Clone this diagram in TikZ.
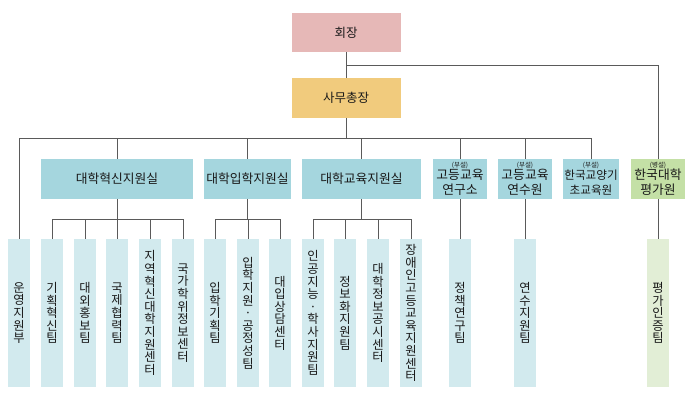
\documentclass[tikz,border=0pt]{standalone}
\usepackage{fontspec}
\setmainfont{Noto Sans CJK KR}
\definecolor{presc}{HTML}{E6B8B7}
\definecolor{secc}{HTML}{F1CB7D}
\definecolor{midc}{HTML}{A5D6DE}
\definecolor{midg}{HTML}{C4E0A6}
\definecolor{leafc}{HTML}{D2EAEE}
\definecolor{leafg}{HTML}{E2EED6}
\definecolor{linec}{HTML}{5A5A5A}
\begin{document}
\begin{tikzpicture}[x=1pt,y=-1pt,
 box/.style={draw=none, inner sep=0pt, outer sep=0pt, align=center, text=black!90},
 topbox/.style={box, minimum width=109pt, minimum height=39pt, font=\fontsize{12.5}{14}\selectfont},
 mid/.style={box, fill=midc, minimum height=40pt, font=\fontsize{12.8}{15}\selectfont},
 leaf/.style={box, fill=leafc, minimum width=22pt, minimum height=148pt, font=\fontsize{12.3}{12.6}\selectfont},
 link/.style={draw=linec, line width=0.8pt}]
\useasboundingbox (0,0) rectangle (700,407);
% top
\node[topbox, fill=presc] (pres) at (346,32.5) {회장};
\node[topbox, fill=secc, minimum height=40pt] (sec) at (346,98) {사무총장};
% middle
\node[mid, minimum width=152pt] (m1) at (117,179) {대학혁신지원실};
\node[mid, minimum width=87pt] (m2) at (247.5,179) {대학입학지원실};
\node[mid, minimum width=119pt] (m3) at (361.5,179) {대학교육지원실};
\node[mid, minimum width=54pt] (m4) at (460,179) {{\fontsize{6.5}{7}\selectfont (부설)}\\[-3pt]고등교육\\연구소};
\node[mid, minimum width=54pt] (m5) at (525,179) {{\fontsize{6.5}{7}\selectfont (부설)}\\[-3pt]고등교육\\연수원};
\node[mid, minimum width=56pt, font=\fontsize{11.6}{15}\selectfont] (m6) at (591,179) {{\fontsize{6.5}{7}\selectfont (부설)}\\[-3pt]한국교양기\\초교육원};
\node[mid, fill=midg, minimum width=54pt] (m7) at (658,179) {{\fontsize{6.5}{7}\selectfont (병설)}\\[-3pt]한국대학\\평가원};
% leaves
\node[leaf] (l1) at (19,313) {운\\영\\지\\원\\부};
\node[leaf] (l2) at (52,313) {기\\획\\혁\\신\\팀};
\node[leaf] (l3) at (85,313) {대\\외\\홍\\보\\팀};
\node[leaf] (l4) at (117,313) {국\\제\\협\\력\\팀};
\node[leaf] (l5) at (150,313) {지\\역\\혁\\신\\대\\학\\지\\원\\센\\터};
\node[leaf] (l6) at (183,313) {국\\가\\학\\위\\정\\보\\센\\터};
\node[leaf] (l7) at (215,313) {입\\학\\기\\획\\팀};
\node[leaf] (l8) at (248,313) {입\\학\\지\\원\\·\\공\\정\\성\\팀};
\node[leaf] (l9) at (280,313) {대\\입\\상\\담\\센\\터};
\node[leaf] (l10) at (313,313) {인\\공\\지\\능\\·\\학\\사\\지\\원\\팀};
\node[leaf] (l11) at (345,313) {정\\보\\화\\지\\원\\팀};
\node[leaf] (l12) at (378,313) {대\\학\\정\\보\\공\\시\\센\\터};
\node[leaf] (l13) at (411,313) {장\\애\\인\\고\\등\\교\\육\\지\\원\\센\\터};
\node[leaf] (l14) at (460,313) {정\\책\\연\\구\\팀};
\node[leaf] (l15) at (525,313) {연\\수\\지\\원\\팀};
\node[leaf, fill=leafg] (l16) at (658,313) {평\\가\\인\\증\\팀};
% coordinates
\coordinate (rb) at (346,65);
\coordinate (bus) at (346,138);
\coordinate (b1) at (117,219);
% connectors: top
\draw[link] (pres) -- (sec);
\draw[link] (sec) -- (bus);
\draw[link] (rb) -| (m7);
\draw[link] (l1 |- bus) -- (m6 |- bus);
\draw[link] (l1 |- bus) -- (l1);
\foreach \m in {m1,m2,m3,m4,m5,m6}{
  \draw[link] (\m |- bus) -- (\m);
}
% sub-brackets
\draw[link] (m1) -- (m1 |- b1);
\draw[link] (l2 |- b1) -- (l6 |- b1);
\foreach \l in {l2,l3,l4,l5,l6}{ \draw[link] (\l |- b1) -- (\l); }
\draw[link] (m2) -- (m2 |- b1);
\draw[link] (l7 |- b1) -- (l9 |- b1);
\foreach \l in {l7,l8,l9}{ \draw[link] (\l |- b1) -- (\l); }
\draw[link] (m3) -- (m3 |- b1);
\draw[link] (l10 |- b1) -- (l13 |- b1);
\foreach \l in {l10,l11,l12,l13}{ \draw[link] (\l |- b1) -- (\l); }
\draw[link] (m4) -- (l14);
\draw[link] (m5) -- (l15);
\draw[link] (m7) -- (l16);
\end{tikzpicture}
\end{document}
